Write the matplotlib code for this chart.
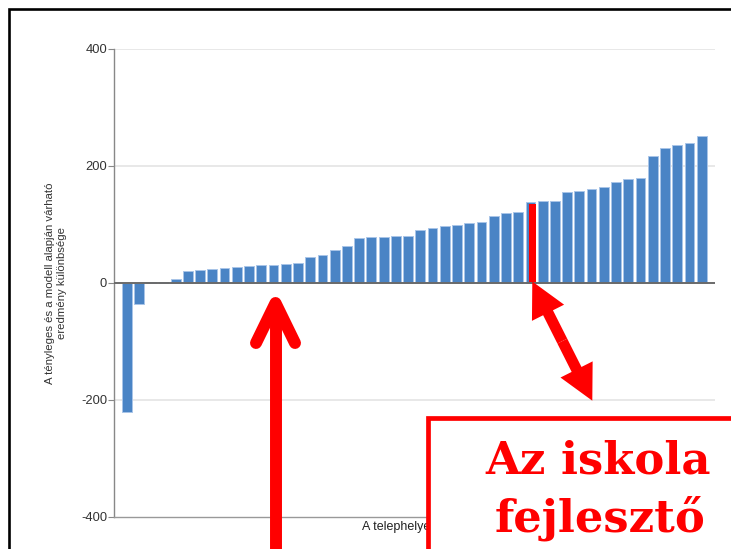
import matplotlib.pyplot as plt
from matplotlib.patches import FancyArrow, Rectangle
import numpy as np

# difference between actual and model-expected result, per site (sorted)
values = [-222, -37, 0.5, 0.8, 6, 19, 22, 22.5, 24.5, 27, 28, 30, 30, 32,
          32.5, 44, 47, 56, 63, 76, 77, 77.5, 79, 80, 89, 94, 96, 98, 101,
          104, 113, 118, 120, 137, 139, 139, 154, 157, 160.5, 164, 172.6,
          177, 179, 216, 229.6, 235, 238, 251]
highlight_idx = 33
yticks = [-400, -200, 0, 200, 400]
ylabel = 'A tényleges és a modell alapján várható\neredmény különbsége'
xlabel = 'A telephelyek'
box_lines = ['Az iskola', 'fejlesztő']

W, H = 731, 549
BAR = '#4a84c5'
RED = '#ff0000'

plt.rcParams['font.family'] = ['Liberation Sans', 'DejaVu Sans']

fig = plt.figure(figsize=(W / 100, H / 100), dpi=100)
ax = fig.add_axes([114 / W, 1 - 516.5 / H, (715 - 114) / W, (516.5 - 48.5) / H])

x = np.arange(len(values))
ax.bar(x, values, width=0.8, color=BAR, edgecolor='#a9c5e8', linewidth=0.7, zorder=2)
# highlighted school
ax.bar(highlight_idx + 0.15, values[highlight_idx] - 3, width=0.58, color=RED,
       linewidth=0, zorder=3)

ax.axhline(0, color='#6a6a6a', lw=1.4, zorder=4)
for v in [200, 400, -200]:
    ax.axhline(v, color='#e6e6e6', lw=1.3, zorder=1)

ax.set_xlim(-1.04, 48.09)
ax.set_ylim(-400, 400)
ax.set_yticks(yticks)
ax.set_yticklabels([str(t) for t in yticks])
ax.set_xticks([])
ax.tick_params(axis='y', length=4, width=0.8, color='#888888', pad=1,
               labelsize=9.3, labelcolor='#333333')
for s in ['top', 'right']:
    ax.spines[s].set_visible(False)
ax.spines['left'].set_color('#888888')
ax.spines['bottom'].set_color('#999999')
ax.spines['left'].set_linewidth(1.0)
ax.spines['bottom'].set_linewidth(1.0)

fig.text(56 / W, 1 - 283 / H, ylabel, rotation=90, ha='center', va='center',
         multialignment='center', fontsize=8.2, color='#333333', linespacing=1.25)
fig.text(362 / W, 1 - 527 / H, xlabel, ha='left', va='center', fontsize=9,
         color='#222222')

# overlay in pixel coordinates for the annotations
ov = fig.add_axes([0, 0, 1, 1], zorder=10)
ov.set_xlim(0, W)
ov.set_ylim(H, 0)
ov.axis('off')
ov.patch.set_alpha(0)

# slide frame
ov.plot([9, 9, W + 5], [H + 5, 9, 9], color='black', lw=1.9, solid_joinstyle='miter')

# vertical arrow
ov.plot([275.5, 275.5], [H + 20, 305], color=RED, lw=8.6, solid_capstyle='butt')
ov.plot([256, 275.5, 295], [343, 303, 343], color=RED, lw=8.6,
        solid_capstyle='round', solid_joinstyle='round')

# double-headed arrow
ax_, ay_, bx_, by_ = 532.3, 281.5, 592.3, 400.7
mx, my = (ax_ + bx_) / 2, (ay_ + by_) / 2
for tx, ty in [(ax_, ay_), (bx_, by_)]:
    ov.add_patch(FancyArrow(mx, my, tx - mx, ty - my, width=11, head_width=36,
                            head_length=35, length_includes_head=True,
                            color=RED, lw=0))

# text box
ov.add_patch(Rectangle((427.5, 418), 400, 200, facecolor='white', edgecolor=RED,
                       lw=3.4, zorder=5))
ov.text(598, 474, box_lines[0], ha='center', va='baseline', fontsize=32.3,
        fontweight='bold', family='DejaVu Serif', color=RED, zorder=6)
ov.text(600, 531.5, box_lines[1], ha='center', va='baseline', fontsize=32.3,
        fontweight='bold', family='DejaVu Serif', color=RED, zorder=6)

fig.savefig('out.png', dpi=100)
